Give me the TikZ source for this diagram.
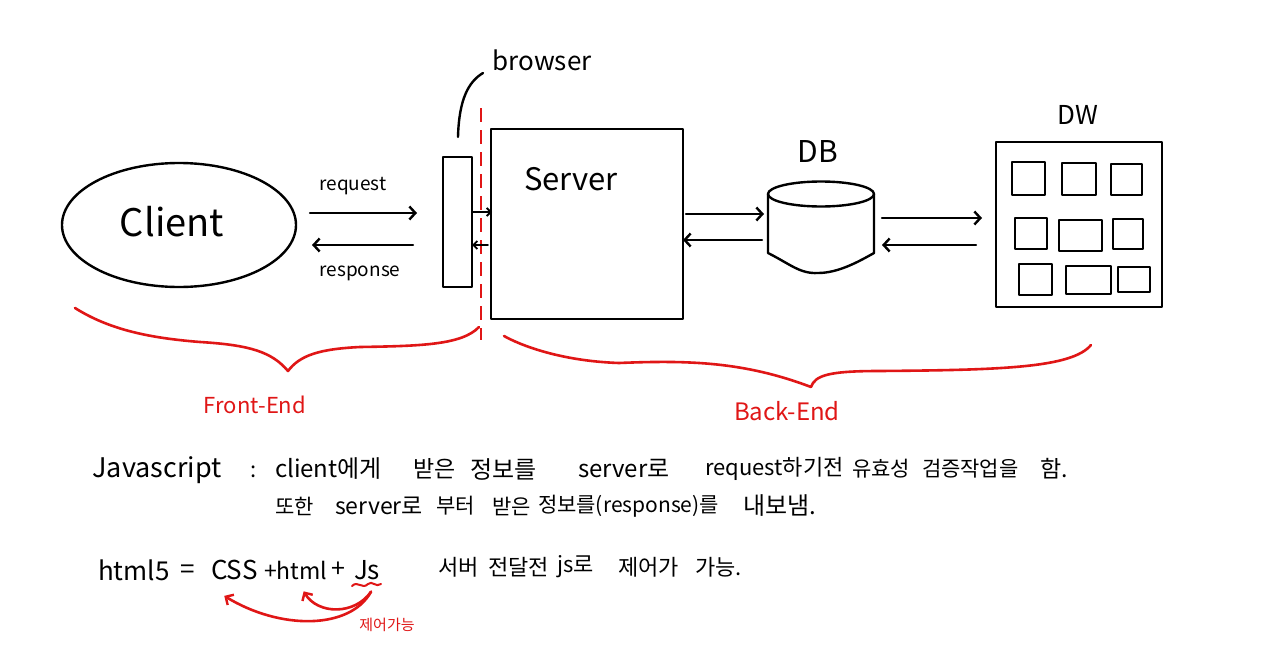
\documentclass[tikz,border=0pt]{standalone}
\usepackage{fontspec}
\setmainfont{Noto Sans CJK KR}
\usetikzlibrary{arrows.meta,calc,shapes.geometric}
\definecolor{hred}{RGB}{224,22,22}
\newcommand{\fs}[1]{\fontsize{#1}{#1}\selectfont}
\begin{document}
\begin{tikzpicture}[x=1pt,y=-1pt,
  ln/.style={line width=2.4pt, line join=round, line cap=round},
  arr/.style={ln, -{Straight Barb[length=6pt,width=13pt,line width=2.4pt]}},
  sarr/.style={line width=1.8pt, line cap=round, -{Straight Barb[length=4pt,width=8pt,line width=1.8pt]}},
  rd/.style={draw=hred, line width=2.6pt, line cap=round, line join=round},
  rarr/.style={rd, -{Straight Barb[length=6pt,width=12pt,line width=2.4pt]}},
  boxn/.style={draw, ln, inner sep=0pt, outer sep=0pt},
  txt/.style={inner sep=0pt, outer sep=0pt},
  seg/.style={inner sep=0pt, outer sep=0pt, anchor=west}
]
\useasboundingbox (0,0) rectangle (1280,661);
\fill[white] (0,0) rectangle (1280,661);

% Client
\node[boxn, ellipse, minimum width=234pt, minimum height=124pt] (client) at (179,225) {};
\node[txt] (clienttxt) at (172,222) {\fs{38}Client};

% browser
\node[boxn, minimum width=29pt, minimum height=130pt] (browser) at (457.5,222) {};
\node[txt] (browsertxt) at (542,60) {\fs{26}browser};
\draw[ln] (browser.north) ++(0.5,-20) coordinate (bcur) .. controls (459,100) and (468,82) .. (483,73);

% Server
\node[boxn, minimum width=192pt, minimum height=190pt] (server) at (587,224) {};
\node[txt] (servertxt) at (571,179) {\fs{31}Server};

% dashed divider
\draw[rd, dash pattern=on 14pt off 8pt, line cap=butt] (481,108) -- (481,340);

% DB
\node[txt, minimum width=106pt, minimum height=92pt] (db) at (821,227) {};
\node[txt] (dbtxt) at (818,152) {\fs{30}DB};
\draw[ln] (821,194) ellipse [x radius=53, y radius=12.5];
\draw[ln] (768,194) -- (768,253) .. controls (790,264) and (800,274) .. (818,273)
          .. controls (838,273) and (858,262) .. (874,253) -- (874,194);

% DW
\node[boxn, minimum width=166pt, minimum height=165pt] (dw) at (1079,224.5) {};
\node[txt] (dwtxt) at (1078,115) {\fs{26}DW};
\draw[ln] (1012,162) rectangle (1045,195);
\draw[ln] (1062,163) rectangle (1096,195);
\draw[ln] (1111,164) rectangle (1142,195);
\draw[ln] (1015,218) rectangle (1047,249);
\draw[ln] (1059,220) rectangle (1102,251);
\draw[ln] (1113,219) rectangle (1143,249);
\draw[ln] (1019,264) rectangle (1052,295);
\draw[ln] (1066,266) rectangle (1111,294);
\draw[ln] (1118,267) rectangle (1150,292);

% arrows
\draw[arr] ($(client.east)+(14,-12)$) -- ($(browser.west)+(-26,-9)$);
\draw[arr] ($(browser.west)+(-30,23)$) -- ($(client.east)+(16,20)$);
\node[txt] (reqtxt) at (353,186) {\fs{19}request};
\node[txt] (restxt) at (360,273) {\fs{19}response};
\draw[sarr] ($(browser.east)+(0,-10)$) -- ($(server.west)+(1,-12)$);
\draw[sarr] ($(server.west)+(-3,21)$) -- ($(browser.east)+(0,23)$);
\draw[arr] ($(server.east)+(3,-10)$) -- ($(db.west)+(-4,-13)$);
\draw[arr] ($(db.west)+(-6,13)$) -- ($(server.east)+(0,16)$);
\draw[arr] ($(db.east)+(8,-9)$) -- ($(dw.west)+(-14,-6.5)$);
\draw[arr] ($(dw.west)+(-20,20.5)$) -- ($(db.east)+(8,18)$);

% braces
\draw[rd] (75,308) .. controls (110,330) and (150,338) .. (200,342)
  .. controls (250,345) and (272,352) .. (288,371)
  .. controls (300,355) and (320,349) .. (360,347)
  .. controls (420,346) and (462,345) .. (479,327);
\draw[rd] (504,336) .. controls (520,345) and (560,361) .. (619,363)
  .. controls (690,360) and (745,362) .. (811,387)
  .. controls (815,375) and (830,371) .. (880,371)
  .. controls (1000,370) and (1072,368) .. (1091,345);
\node[txt, text=hred] (fe) at (255,405) {\fs{22}Front-End};
\node[txt, text=hred] (be) at (787,411) {\fs{24}Back-End};

% notes
\node[txt] (js) at (157,470) {\fs{27}Javascript};
\node[txt] (colon) at (254,472) {\fs{22}:};
\node[seg] (l1a) at (275,469) {\fs{24}client에게};
\node[seg] (l1b) at (413,469) {\fs{23}받은};
\node[seg] (l1c) at (470,469) {\fs{24}정보를};
\node[seg] (l1d) at (578,469) {\fs{24}server로};
\node[seg] (l1e) at (705,469) {\fs{22}request하기전};
\node[seg] (l1f) at (852,469) {\fs{21}유효성};
\node[seg] (l1g) at (922,469) {\fs{21}검증작업을};
\node[seg] (l1h) at (1040,469) {\fs{23}함.};
\node[seg] (l2a) at (275,506) {\fs{21}또한};
\node[seg] (l2b) at (335,506) {\fs{23}server로};
\node[seg] (l2c) at (436,506) {\fs{21}부터};
\node[seg] (l2d) at (492,506) {\fs{21}받은};
\node[seg] (l2e) at (538,506) {\fs{21}정보를(response)를};
\node[seg] (l2f) at (743,506) {\fs{24}내보냄.};

\node[seg] (l3a) at (98,570) {\fs{26}html5};
\node[seg] (l3b) at (180,572) {\fs{26}=};
\node[seg] (l3c) at (211,570) {\fs{26}CSS};
\node[seg] (l3d) at (264,570) {\fs{23}+html};
\node[seg] (l3e) at (331,570) {\fs{25}+};
\node[seg] (l3f) at (354,570) {\fs{26}Js};
\node[seg] (l3g) at (438,567) {\fs{22}서버};
\node[seg] (l3h) at (488,567) {\fs{22}전달전};
\node[seg] (l3i) at (557,567) {\fs{22}js로};
\node[seg] (l3j) at (618,567) {\fs{22}제어가};
\node[seg] (l3k) at (695,567) {\fs{22}가능.};

% red annotation
\draw[rd, line width=2pt] (352,586) .. controls (358,580) and (362,590) .. (368,584)
  .. controls (372,580) and (376,588) .. (381,584);
\draw[rarr] ($(l3f.south)+(4,12)$) .. controls (350,630) and (280,630) .. ($(l3c.south)+(-10,16)$);
\draw[rarr] ($(l3f.south)+(4,12)$) .. controls (355,615) and (318,615) .. ($(l3d.south)+(8,12)$);
\node[txt, text=hred] (ctl) at (387,625) {\fs{15}제어가능};
\end{tikzpicture}
\end{document}
